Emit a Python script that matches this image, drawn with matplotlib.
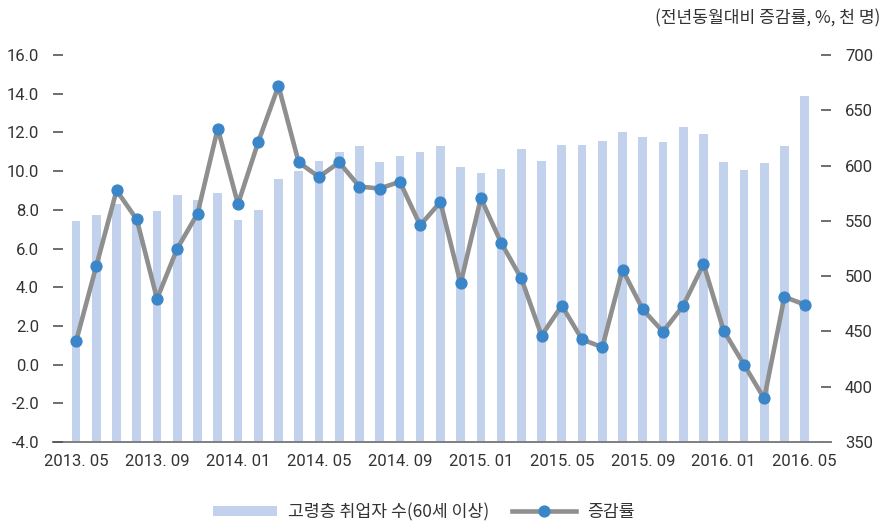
import matplotlib
matplotlib.use("Agg")
import matplotlib.pyplot as plt
import numpy as np

plt.rcParams['font.family'] = ['Noto Sans CJK KR', 'DejaVu Sans']

months = ['2013. 05', '2013. 06', '2013. 07', '2013. 08', '2013. 09', '2013. 10', '2013. 11', '2013. 12',
          '2014. 01', '2014. 02', '2014. 03', '2014. 04', '2014. 05', '2014. 06', '2014. 07', '2014. 08',
          '2014. 09', '2014. 10', '2014. 11', '2014. 12', '2015. 01', '2015. 02', '2015. 03', '2015. 04',
          '2015. 05', '2015. 06', '2015. 07', '2015. 08', '2015. 09', '2015. 10', '2015. 11', '2015. 12',
          '2016. 01', '2016. 02', '2016. 03', '2016. 04', '2016. 05']

employed = [550, 555, 565, 552, 559, 573, 569, 575, 551, 560, 588, 595, 604, 612, 618, 603, 609, 612,
            618, 599, 593, 597, 615, 604, 619, 619, 622, 630, 626, 621, 635, 629, 603, 596, 602, 618, 663]

growth = [1.2, 5.1, 9.0, 7.5, 3.4, 6.0, 7.8, 12.2, 8.3, 11.5, 14.4, 10.45, 9.7, 10.45, 9.2, 9.1, 9.45,
          7.2, 8.4, 4.2, 8.6, 6.3, 4.45, 1.5, 3.05, 1.3, 0.9, 4.9, 2.85, 1.7, 3.05, 5.2, 1.75, 0.0,
          -1.75, 3.5, 3.1]

bar_label = '고령층 취업자 수(60세 이상)'
line_label = '증감률'
unit_text = '(전년동월대비 증감률, %, 천 명)'

bar_color = '#C3D2EC'
line_color = '#8F8F8F'
marker_color = '#3B86C8'
text_color = '#333333'
tick_font = 'Roboto'

fig = plt.figure(figsize=(8.87, 5.22), dpi=100)
ax_bar = fig.add_axes([53/887, 1-442/522, (831-53)/887, (442-55)/522])
x = np.arange(len(months))

bars = ax_bar.bar(x, employed, width=0.43, color=bar_color, label=bar_label, zorder=2)
ax_bar.set_ylim(350, 700)
ax_bar.set_yticks(np.arange(350, 701, 50))
ax_bar.set_xlim(-1.14, 37.3)

ax_line = ax_bar.twinx()
ln, = ax_line.plot(x, growth, color=line_color, linewidth=3.3, marker='o', markersize=7.8,
                   markerfacecolor=marker_color, markeredgecolor=marker_color, label=line_label, zorder=3)
ax_line.set_ylim(-4, 16)
ax_line.set_yticks(np.arange(-4, 16.1, 2))
ax_line.set_yticklabels([f'{v:.1f}' for v in np.arange(-4, 16.1, 2)])

ax_bar.yaxis.tick_right()
ax_line.yaxis.tick_left()

for a in (ax_bar, ax_line):
    for s in ['top', 'left', 'right']:
        a.spines[s].set_visible(False)
    a.spines['bottom'].set_color('#7F7F7F')
    a.spines['bottom'].set_linewidth(1.4)

ax_line.spines['bottom'].set_visible(False)

ax_bar.tick_params(axis='y', direction='in', length=7, width=1.2, color='#555555', pad=10,
                   labelsize=12, labelcolor=text_color)
ax_line.tick_params(axis='y', direction='in', length=7, width=1.2, color='#555555', pad=10,
                    labelsize=12, labelcolor=text_color)
for lbl in ax_bar.get_yticklabels() + ax_line.get_yticklabels():
    lbl.set_family(tick_font)

ax_bar.set_xticks(x[::4])
ax_bar.set_xticklabels(months[::4], fontsize=12, color=text_color, family=tick_font)
ax_bar.tick_params(axis='x', length=0, pad=9)

fig.text(880/887, 1-18/522, unit_text, ha='right', va='center', fontsize=12.3, color=text_color)

fig.legend([bars, ln], [bar_label, line_label], loc='center', bbox_to_anchor=(424/887, 1-512/522),
           ncol=2, frameon=False, prop={'size': 12.4}, handlelength=3.7, handleheight=0.6,
           columnspacing=1.3, handletextpad=0.65, labelcolor=text_color)

fig.savefig('out.png', dpi=100)
